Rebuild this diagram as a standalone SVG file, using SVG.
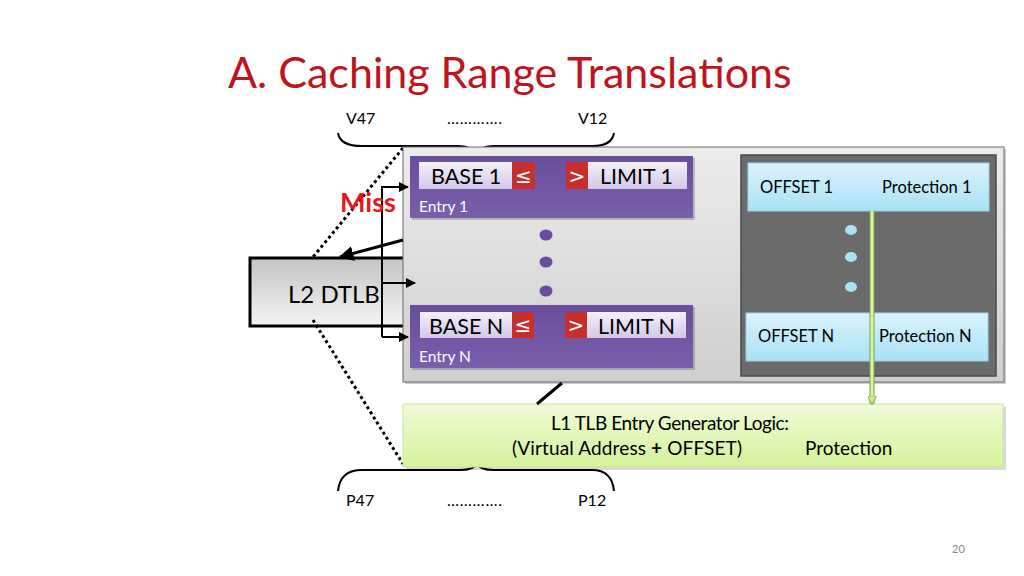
<svg xmlns="http://www.w3.org/2000/svg" width="1024" height="576" viewBox="0 0 1024 576">
<defs>
<linearGradient id="gGray" x1="0" y1="0" x2="0" y2="1"><stop offset="0" stop-color="#ececec"/><stop offset="1" stop-color="#cfcfcf"/></linearGradient>
<linearGradient id="gL2" x1="0" y1="0" x2="0" y2="1"><stop offset="0" stop-color="#c4c4c4"/><stop offset="1" stop-color="#f4f4f4"/></linearGradient>
<linearGradient id="gPurp" x1="0" y1="0" x2="0" y2="1"><stop offset="0" stop-color="#6a4c9c"/><stop offset="1" stop-color="#7a5fab"/></linearGradient>
<linearGradient id="gLav" x1="0" y1="0" x2="0" y2="1"><stop offset="0" stop-color="#f3f0fa"/><stop offset="1" stop-color="#d2c8e8"/></linearGradient>
<linearGradient id="gCyan" x1="0" y1="0" x2="0" y2="1"><stop offset="0" stop-color="#d9f3fc"/><stop offset="1" stop-color="#a9e1f5"/></linearGradient>
<linearGradient id="gGreen" x1="0" y1="0" x2="0" y2="1"><stop offset="0" stop-color="#f0fbd8"/><stop offset="1" stop-color="#d4f29a"/></linearGradient>
<marker id="ah" viewBox="0 0 10 10" refX="9" refY="5" markerWidth="5" markerHeight="5" orient="auto" markerUnits="strokeWidth"><path d="M0,0 L10,5 L0,10 z" fill="#000"/></marker>
<marker id="ahg" viewBox="0 0 10 10" refX="9" refY="5" markerWidth="3" markerHeight="3" orient="auto" markerUnits="strokeWidth"><path d="M0,0 L10,5 L0,10 z" fill="#c8ee88" stroke="#7aa040" stroke-width="1"/></marker>
</defs>
<style>
text{font-family:Lato,"Liberation Sans",sans-serif}
.lbl{font-size:16px;fill:#000}
.big{font-size:21.5px;fill:#000}
.ent{font-size:15.5px;fill:#fff}
.off{font-size:16.5px;fill:#000}
.red{fill:#c5302c}
.lav{fill:url(#gLav)}
.purp{fill:url(#gPurp)}
.cyan{fill:url(#gCyan);stroke:#9dd3e6;stroke-width:1}
.pdot{fill:#6a4c9c}
.cdot{fill:#a9e1f5}
.conn{stroke:#000;stroke-width:2;fill:none}
.dot{stroke:#000;stroke-width:3;stroke-dasharray:3 3;fill:none}
.brace{stroke:#000;stroke-width:2;fill:none}
.sym{font-family:"DejaVu Sans",sans-serif;font-size:20px;fill:#fff}
.gen{font-size:19px;fill:#000}
</style>

<text x="228" y="88" font-size="43" fill="#c0141c">A. Caching Range Translations</text>

<g id="labels-top">
<text class="lbl" x="346" y="124">V47</text>
<text class="lbl" x="447" y="124" textLength="55">………….</text>
<text class="lbl" x="578" y="124">V12</text>
</g>
<g id="labels-bottom">
<text class="lbl" x="346" y="506">P47</text>
<text class="lbl" x="447" y="506" textLength="55">………….</text>
<text class="lbl" x="578" y="506">P12</text>
</g>
<text x="952" y="553" font-size="11" fill="#888">20</text>

<g id="braces">
<path class="brace" d="M338,133 Q340,146 362,146 L458,146 Q474,146 476,158 Q478,146 494,146 L592,146 Q612,146 614,133"/>
<path class="brace" d="M338,491 Q340,470 362,470 L460,470 Q474,470 477,464 Q480,470 494,470 L592,470 Q612,470 614,491"/>
</g>

<g id="l2dtlb">
<rect x="250" y="258" width="170" height="68" fill="url(#gL2)" stroke="#000" stroke-width="3"/>
<text x="288" y="303" font-size="24" fill="#000">L2 DTLB</text>
</g>

<g id="dotted">
<path class="dot" d="M403,148 L313,257"/>
<path class="dot" d="M313,320 L403,464"/>
</g>

<g id="gray-box">
<rect x="405" y="149" width="601" height="235" fill="#9a9a9a" opacity="0.5"/>
<rect x="403" y="147" width="601" height="235" fill="url(#gGray)" stroke="#6a6a6a" stroke-width="1"/>
</g>

<g id="entry1">
<rect x="412" y="158" width="283" height="62" fill="#000" opacity="0.2"/>
<rect x="410" y="156" width="283" height="62" class="purp"/>
<rect x="419" y="162" width="93" height="27" class="lav"/>
<rect x="512" y="162" width="23" height="27" class="red"/>
<rect x="566" y="162" width="22" height="27" class="red"/>
<rect x="588" y="162" width="99" height="27" class="lav"/>
<text class="big" x="431" y="184">BASE 1</text>
<text class="sym" x="523.5" y="183" text-anchor="middle">≤</text>
<text class="sym" x="577" y="183" text-anchor="middle">&gt;</text>
<text class="big" x="600" y="184">LIMIT 1</text>
<text class="ent" x="419" y="212">Entry 1</text>
</g>

<g id="purple-dots">
<ellipse class="pdot" cx="546" cy="235" rx="6.5" ry="5.5"/>
<ellipse class="pdot" cx="546" cy="262" rx="6.5" ry="5.5"/>
<ellipse class="pdot" cx="546" cy="291" rx="6.5" ry="5.5"/>
</g>

<g id="entryN">
<rect x="412" y="307" width="283" height="63" fill="#000" opacity="0.2"/>
<rect x="410" y="305" width="283" height="63" class="purp"/>
<rect x="420" y="312" width="92" height="26" class="lav"/>
<rect x="512" y="312" width="22" height="26" class="red"/>
<rect x="565" y="312" width="22" height="26" class="red"/>
<rect x="587" y="312" width="99" height="26" class="lav"/>
<text class="big" x="429" y="334">BASE N</text>
<text class="sym" x="523" y="332" text-anchor="middle">≤</text>
<text class="sym" x="576" y="332" text-anchor="middle">&gt;</text>
<text class="big" x="598" y="334">LIMIT N</text>
<text class="ent" x="419" y="362">Entry N</text>
</g>

<g id="offset-panel">
<rect x="741" y="155" width="255" height="221" fill="#6b6b6b" stroke="#4a4a4a" stroke-width="1.5"/>
</g>
<g id="offset1">
<rect x="748" y="163" width="241" height="48" class="cyan"/>
<text class="off" x="760" y="193">OFFSET 1</text>
<text class="off" x="882" y="193">Protection 1</text>
</g>
<g id="cyan-dots">
<ellipse class="cdot" cx="851" cy="230" rx="6" ry="5"/>
<ellipse class="cdot" cx="851" cy="257" rx="6" ry="5"/>
<ellipse class="cdot" cx="851" cy="287" rx="6" ry="5"/>
</g>
<g id="offsetN">
<rect x="746" y="313" width="242" height="48" class="cyan"/>
<text class="off" x="758" y="342">OFFSET N</text>
<text class="off" x="879" y="342">Protection N</text>
</g>

<g id="generator">
<rect x="406" y="407" width="600" height="63" fill="#000" opacity="0.15"/>
<rect x="403" y="404" width="600" height="63" fill="url(#gGreen)" stroke="#c9e89a" stroke-width="1"/>
<text class="gen" x="670" y="430" text-anchor="middle" textLength="238">L1 TLB Entry Generator Logic:</text>
<text class="gen" x="512" y="455" textLength="230">(Virtual Address <tspan font-weight="bold">+</tspan> OFFSET)</text>
<text class="gen" x="805" y="455">Protection</text>
</g>

<g id="connectors">
<path class="conn" d="M382,337 L382,187 L408,187" marker-end="url(#ah)"/>
<path class="conn" d="M382,337 L408,337" marker-end="url(#ah)"/>
<path class="conn" d="M382,283 L415,283" marker-end="url(#ah)"/>
<path d="M403,240 L340,257" stroke="#000" stroke-width="3" fill="none" marker-end="url(#ah)"/>
<path d="M562,383 L537,404" stroke="#000" stroke-width="3" fill="none"/>
<path d="M872,211 L872,404" stroke="#7aa040" stroke-width="5" fill="none"/>
<path d="M872,211 L872,404" stroke="#d8f5a8" stroke-width="3" fill="none" marker-end="url(#ahg)"/>
</g>

<text x="340" y="212" font-size="27" font-weight="bold" fill="#e8161c">Miss</text>
</svg>
